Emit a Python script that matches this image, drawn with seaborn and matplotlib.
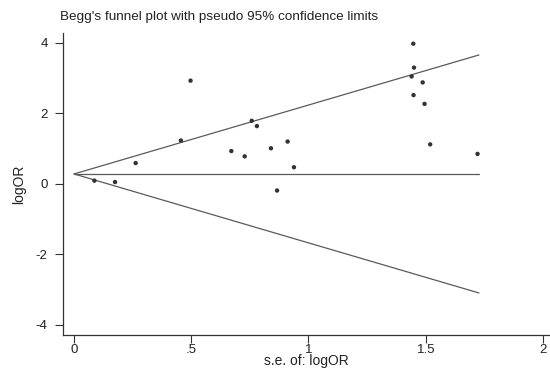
import matplotlib
matplotlib.use("Agg")
import matplotlib.pyplot as plt
import seaborn as sns
import pandas as pd

# study standard errors and log odds ratios
se = [0.087, 0.175, 0.263, 0.456, 0.497, 0.671, 0.728, 0.758, 0.780, 0.840,
      0.866, 0.911, 0.938, 1.440, 1.447, 1.448, 1.450, 1.487, 1.495, 1.519, 1.721]
log_or = [0.09, 0.05, 0.59, 1.23, 2.93, 0.93, 0.78, 1.79, 1.64, 1.01,
          -0.19, 1.20, 0.47, 3.05, 3.98, 2.52, 3.30, 2.88, 2.27, 1.12, 0.85]

# pooled estimate and pseudo 95% limits
funnel_se = [0.0, 1.727]
pooled = [0.28, 0.28]
upper = [0.28, 3.66]
lower = [0.28, -3.10]

x_ticks = [0, 0.5, 1, 1.5, 2]
x_labels = ["0", ".5", "1", "1.5", "2"]
y_ticks = [4, 2, 0, -2, -4]

df = pd.DataFrame({"se": se, "logOR": log_or})

sns.set_style("ticks")
plt.rcParams["font.family"] = ["Liberation Sans", "DejaVu Sans"]

fig = plt.figure(figsize=(5.5, 3.68), dpi=100)
ax = fig.add_axes([0.1145, 0.091, 0.8855, 0.819])

line_col = "#5a5a5a"
for ys in (upper, pooled, lower):
    sns.lineplot(x=funnel_se, y=ys, ax=ax, color=line_col, linewidth=0.9)

sns.scatterplot(data=df, x="se", y="logOR", ax=ax, s=10, color="#333333",
                edgecolor="none", zorder=3)

ax.set_xlim(-0.047, 2.03)
ax.set_ylim(-4.28, 4.28)
ax.set_xticks(x_ticks)
ax.set_xticklabels(x_labels)
ax.set_yticks(y_ticks)
ax.set_yticklabels([str(v) for v in y_ticks])
ax.tick_params(direction="out", length=6, width=0.8, color="#333333",
               labelsize=9.5, labelcolor="#222222")
ax.tick_params(axis="x", pad=0.5)
ax.tick_params(axis="y", pad=5)
for s in ("top", "right"):
    ax.spines[s].set_visible(False)
for s in ("left", "bottom"):
    ax.spines[s].set_color("#333333")
    ax.spines[s].set_linewidth(0.9)

ax.set_xlabel("s.e. of: logOR", fontsize=10, color="#222222", labelpad=-1)
ax.set_ylabel("logOR", fontsize=10, color="#222222", labelpad=7)

fig.text(0.109, 0.953, "Begg's funnel plot with pseudo 95% confidence limits",
         fontsize=9.7, color="#222222", va="center", ha="left")

fig.savefig("out.png", dpi=100)
